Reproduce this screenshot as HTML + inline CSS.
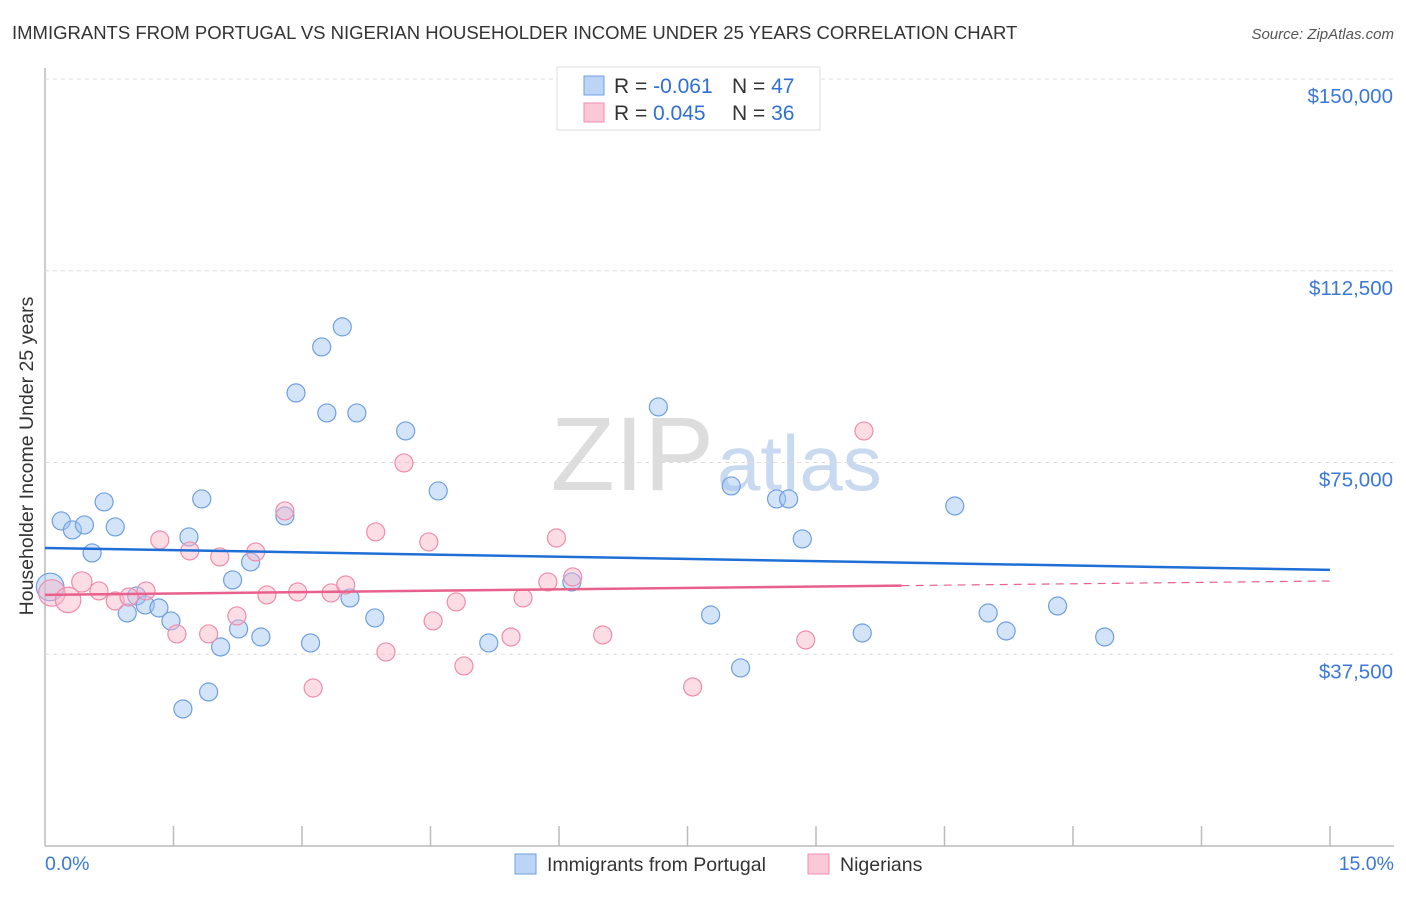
<!DOCTYPE html>
<html><head><meta charset="utf-8"><style>
body{margin:0;background:#fff;font-family:"Liberation Sans",sans-serif;}
svg text{font-family:"Liberation Sans",sans-serif;}
</style></head><body>
<svg id="chart" width="1406" height="892">
<text x="12" y="39" font-size="18.5" fill="#333">IMMIGRANTS FROM PORTUGAL VS NIGERIAN HOUSEHOLDER INCOME UNDER 25 YEARS CORRELATION CHART</text>
<text x="1394" y="39" font-size="15" fill="#555" font-style="italic" text-anchor="end">Source: ZipAtlas.com</text>
<text x="714" y="490" font-size="105" fill="#ddd" text-anchor="end" font-family="Liberation Serif">ZIP</text>
<text x="717" y="490" font-size="78" fill="#c8d9f0">atlas</text>
<text transform="translate(33,456) rotate(-90)" font-size="19.5" fill="#333" text-anchor="middle">Householder Income Under 25 years</text>
<g id="grid"></g><g id="marks"></g>
<g>
<rect x="557" y="67" width="263" height="63" fill="#fff" stroke="#ddd"/>
<rect x="584" y="76" width="20" height="19" fill="#bcd4f5" stroke="#6f9fe0"/>
<rect x="584" y="103" width="20" height="19" fill="#fbc8d8" stroke="#f08cab"/>
<text x="614" y="93" font-size="21" fill="#333">R = <tspan fill="#2f6fd6">-0.061</tspan><tspan x="732">N = </tspan><tspan fill="#2f6fd6">47</tspan></text>
<text x="614" y="120" font-size="21" fill="#333">R = <tspan fill="#2f6fd6" x="653">0.045</tspan><tspan x="732">N = </tspan><tspan fill="#2f6fd6">36</tspan></text>
</g>
<g>
<rect x="515" y="854" width="21" height="20" fill="#bcd4f5" stroke="#6f9fe0"/>
<text x="547" y="871" font-size="19.5" fill="#333">Immigrants from Portugal</text>
<rect x="808" y="854" width="21" height="20" fill="#fbc8d8" stroke="#f08cab"/>
<text x="840" y="871" font-size="19.5" fill="#333">Nigerians</text>
</g>
</svg>
<script>
const yTicks=[37500,75000,112500,150000];
const yTickLabels=["$37,500","$75,000","$112,500","$150,000"];
const blueX=[0.19,0.32,0.46,0.69,0.82,0.55,0.96,1.07,1.17,1.33,1.47,1.61,1.68,1.83,1.91,2.05,2.19,2.26,2.40,2.52,2.80,2.93,3.10,3.23,3.29,3.47,3.56,3.64,3.85,4.21,4.59,5.18,6.15,7.16,7.77,8.01,8.12,8.54,8.68,8.84,9.54,10.62,11.01,11.22,11.82,12.37,0.06];
const blueY=[63570,61810,62790,67290,62400,57310,45570,48900,47140,46550,44010,26800,60440,67870,30120,38920,52030,42450,55550,40880,64550,88610,39710,97600,84690,101520,48510,84690,44600,81170,69440,39710,51640,85870,45180,70420,34820,67870,67870,60050,41660,66500,45570,42050,46940,40880,50660];
const blueW=[1,1,1,1,1,1,1,1,1,1,1,1,1,1,1,1,1,1,1,1,1,1,1,1,1,1,1,1,1,1,1,1,1,1,1,1,1,1,1,1,1,1,1,1,1,1,2.6];
const pinkX=[0.08,0.27,0.43,0.63,0.82,0.98,1.18,1.34,1.54,1.69,1.91,2.04,2.24,2.46,2.59,2.80,2.95,3.13,3.34,3.51,3.86,3.98,4.19,4.48,4.53,4.80,4.89,5.44,5.58,5.87,5.97,6.16,6.51,7.56,8.88,9.56];
const pinkY=[49490,48120,51640,49880,47920,48700,49880,59850,41470,57700,41470,56530,44990,57510,49100,65530,49680,30900,49490,51050,61420,37950,74910,59460,44010,47730,35210,40880,48510,51640,60240,52620,41270,31100,40290,81170];
const pinkW=[2.4,2.2,1.4,1,1,1,1,1,1,1,1,1,1,1,1,1,1,1,1,1,1,1,1,1,1,1,1,1,1,1,1,1,1,1,1,1];
const blueTrend=[58290,53990];
const pinkTrend=[49100,51830];
const pinkSolidEnd=10;
const NS="http://www.w3.org/2000/svg";
const sx=v=>45+v*(1330-45)/15;
const sy=v=>846-v*(846-79)/150000;
const grid=document.getElementById('grid'),marks=document.getElementById('marks');
function mk(tag,at,p){const e=document.createElementNS(NS,tag);for(const k in at)e.setAttribute(k,at[k]);p.appendChild(e);return e;}
let ax=mk('line',{x1:45,y1:68,x2:45,y2:846,stroke:'#bbb','stroke-width':1.5},grid);


let bx=mk('line',{x1:45,y1:846,x2:1394,y2:846,stroke:'#bbb','stroke-width':1.5},grid);


yTicks.forEach((t,i)=>{
 let g=mk('line',{x1:45,x2:1394,y1:sy(t),y2:sy(t),stroke:'#ddd','stroke-dasharray':'4,4'},grid);
 
 
 let l=mk('text',{x:1393,y:sy(t)+24,'font-size':20.5,fill:'#3b78d8','text-anchor':'end'},grid);l.textContent=yTickLabels[i];
 
 
});
for(let i=1;i<=10;i++){let t=mk('line',{x1:sx(i*1.5),x2:sx(i*1.5),y1:826,y2:846,stroke:'#bbb','stroke-width':1.5},grid);
 
 }
[["0.0%",45,'start'],["15.0%",1394,'end']].forEach(a=>{let l=mk('text',{x:a[1],y:870,'font-size':19.5,fill:'#3b78d8','text-anchor':a[2]},grid);l.textContent=a[0];
 
 });
function pts(X,Y,W,fill,stroke,name){X.forEach((x,i)=>{let c=mk('circle',{cx:sx(x),cy:sy(Y[i]),r:9*Math.sqrt(W[i])*(W[i]>1?0.95:1),fill:fill,stroke:stroke,'stroke-width':1.2},marks);
 
 });}
pts(blueX,blueY,blueW,'rgba(160,195,240,0.45)','#6f9fe0','portugal-point');
pts(pinkX,pinkY,pinkW,'rgba(248,180,200,0.45)','#f08cab','nigerian-point');
let bl=mk('line',{x1:sx(0),y1:sy(blueTrend[0]),x2:sx(15),y2:sy(blueTrend[1]),stroke:'#1f6fd6','stroke-width':2.5},marks);


const pAt=x=>pinkTrend[0]+(pinkTrend[1]-pinkTrend[0])*x/15;
let pl=mk('line',{x1:sx(0),y1:sy(pAt(0)),x2:sx(pinkSolidEnd),y2:sy(pAt(pinkSolidEnd)),stroke:'#e8608c','stroke-width':2.5},marks);


let pd=mk('line',{x1:sx(pinkSolidEnd),y1:sy(pAt(pinkSolidEnd)),x2:sx(15),y2:sy(pAt(15)),stroke:'#e8608c','stroke-width':1.2,'stroke-dasharray':'8,6'},marks);


</script>
</body></html>
